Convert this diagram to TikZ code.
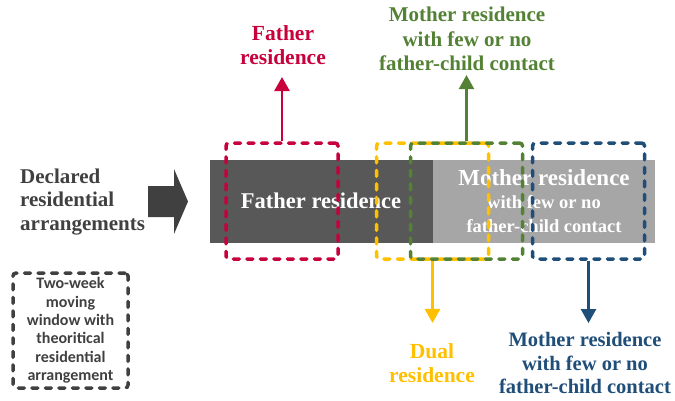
\documentclass[tikz,border=0pt]{standalone}
\usepackage{fontspec}
\setmainfont{Liberation Serif}
\newfontfamily\legendfont{Carlito}
\usetikzlibrary{arrows.meta}
\definecolor{cred}{HTML}{C8003C}
\definecolor{cgreen}{HTML}{548235}
\definecolor{cyel}{HTML}{FFC000}
\definecolor{cblue}{HTML}{1F4E79}
\definecolor{cdark}{HTML}{404040}
\definecolor{bardark}{HTML}{585858}
\definecolor{barlight}{HTML}{A6A6A6}
\begin{document}
\begin{tikzpicture}[x=1pt,y=-1pt,
  win/.style={draw=#1, line width=3.5pt, dash pattern=on 6pt off 7.5pt, line cap=round,
    rounded corners=3pt, minimum width=112pt, minimum height=116pt, inner sep=0pt},
  barpart/.style={fill=#1, inner sep=0pt, minimum height=83pt, anchor=north west},
  lab/.style={text=#1, font=\bfseries\fontsize{21.5}{24.5}\selectfont, align=center, inner sep=0pt},
  conn/.style={draw=#1, line width=2.5pt, -{Triangle[width=15pt,length=14pt]}}
]
\useasboundingbox (0,0) rectangle (675,400);

% bar
\node[barpart=bardark, minimum width=223pt] (bardk) at (210,160) {};
\node[barpart=barlight, minimum width=222pt] (barlt) at (433,160) {};
\node[text=white, font=\bfseries\fontsize{22.5}{25}\selectfont, inner sep=0pt, anchor=base] (ftext) at (321,208) {Father residence};
\node[text=white, font=\bfseries\fontsize{18.5}{23.5}\selectfont, align=center, inner sep=0pt] (mtext) at (544,201)
  {{\fontsize{23}{23.5}\selectfont Mother residence}\\with few or no\\father-child contact};

% declared
\node[text=cdark, font=\bfseries\fontsize{21}{23.5}\selectfont, align=left, inner sep=0pt, anchor=west] (decl) at (20,202)
  {Declared\\residential\\arrangements};
\fill[cdark] (148,186) -- (174,186) -- (174,169) -- (188,201.5) -- (174,234) -- (174,217) -- (148,217) -- cycle;

% windows
\node[win=cred] (redbox) at (282,201) {};
\node[win=cyel] (yelbox) at (432.5,201) {};
\node[win=cgreen] (grnbox) at (466.5,201) {};
\node[win=cblue] (blubox) at (588.5,201) {};

% labels
\node[lab=cred] (redlab) at (283,45) {Father\\residence};
\node[lab=cgreen, font=\bfseries\fontsize{21}{24.5}\selectfont] (grnlab) at (467,39) {Mother residence\\with few or no\\father-child contact};
\node[lab=cyel] (yellab) at (432,363) {Dual\\residence};
\node[lab=cblue, font=\bfseries\fontsize{20.5}{23.5}\selectfont] (blulab) at (585,363) {Mother residence\\with few or no\\father-child contact};

% arrows
\draw[conn=cred, shorten >=12pt] (redbox.north) -- (redbox.north |- redlab.south);
\draw[conn=cgreen, shorten >=4pt] (grnbox.north) -- (grnbox.north |- grnlab.south);
\draw[conn=cyel, shorten >=20pt] (yelbox.south) -- (yelbox.south |- yellab.north);
\draw[conn=cblue, shorten >=9pt] (blubox.south) -- (blubox.south |- blulab.north);

% legend
\node[draw=cdark, line width=3.5pt, dash pattern=on 6pt off 7.5pt, line cap=round, rounded corners=3pt,
  minimum width=115pt, minimum height=115pt, inner sep=0pt, text=cdark, align=center,
  font=\legendfont\bfseries\fontsize{16}{18.4}\selectfont] (legend) at (70.5,330.5)
  {Two-week\\moving\\window with\\theoritical\\residential\\arrangement};
\end{tikzpicture}
\end{document}
